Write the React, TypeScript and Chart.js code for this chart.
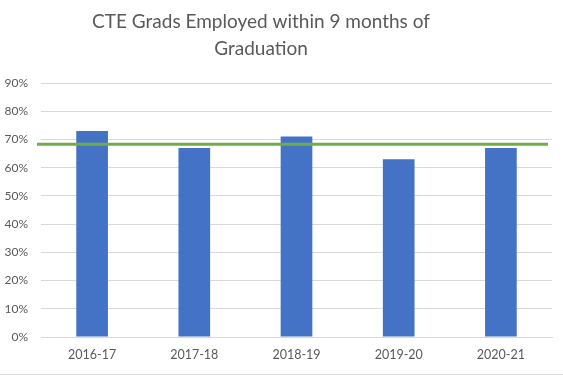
import React, { useEffect, useRef } from "react";
import { Chart, registerables } from "chart.js";

Chart.register(...registerables);

const categories = ["2016-17", "2017-18", "2018-19", "2019-20", "2020-21"];
const employedPct = [73, 67, 71, 63, 67];
const targetPct = 68.3;
const titleLines = ["CTE Grads Employed within 9 months of", "Graduation"];

const targetLinePlugin = {
  id: "targetLine",
  afterDatasetsDraw(chart: any) {
    const { ctx, chartArea, scales } = chart;
    const y = scales.y.getPixelForValue(targetPct);
    ctx.save();
    ctx.strokeStyle = "#70AD47";
    ctx.lineWidth = 3;
    ctx.beginPath();
    ctx.moveTo(chartArea.left - 4, y);
    ctx.lineTo(chartArea.right - 4, y);
    ctx.stroke();
    ctx.restore();
  },
};

const titlePlugin = {
  id: "customTitle",
  afterDraw(chart: any) {
    const { ctx } = chart;
    ctx.save();
    ctx.fillStyle = "#595959";
    ctx.font = "19px Lato";
    ctx.textAlign = "center";
    ctx.textBaseline = "middle";
    titleLines.forEach((line, i) => ctx.fillText(line, 261, 22 + i * 27));
    ctx.restore();
  },
};

export default function App() {
  const ref = useRef<HTMLCanvasElement>(null);
  useEffect(() => {
    const chart = new Chart(ref.current!, {
      type: "bar",
      data: {
        labels: categories,
        datasets: [
          {
            label: "Employed",
            data: employedPct,
            backgroundColor: "#4472C4",
            barPercentage: 0.31,
            categoryPercentage: 1,
          },
        ],
      },
      options: {
        animation: false,
        responsive: false,
        layout: { padding: { left: 3, right: 11, top: 83, bottom: 2 } },
        plugins: {
          legend: { display: false },
          tooltip: { enabled: false },
          title: { display: false },
        },
        scales: {
          x: {
            grid: { display: false, drawTicks: false },
            border: { display: true, color: "#d9d9d9" },
            ticks: { color: "#595959", font: { family: "Lato", size: 12.5 }, padding: 10 },
          },
          y: {
            min: 0,
            max: 90,
            afterFit: (scale: any) => {
              scale.width = 38;
            },
            ticks: {
              stepSize: 10,
              color: "#595959",
              font: { family: "Lato", size: 12 },
              padding: 13,
              callback: (v: any) => v + "%",
            },
            grid: { color: "#d9d9d9", drawTicks: false },
            border: { display: false },
          },
        },
      },
      plugins: [targetLinePlugin, titlePlugin],
    });
    return () => chart.destroy();
  }, []);
  return (
    <div style={{ position: "fixed", left: 0, top: 0, width: 563, height: 375, background: "#fff", borderBottom: "1px solid #d9d9d9", boxSizing: "border-box" }}>
      <canvas ref={ref} width={563} height={374} />
    </div>
  );
}
